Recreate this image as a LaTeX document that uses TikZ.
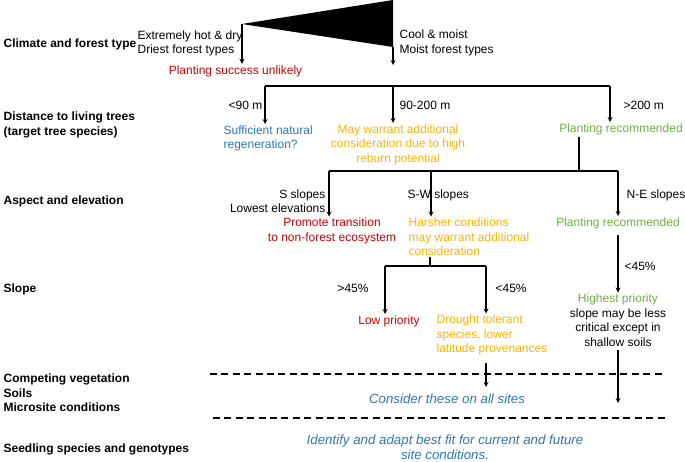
\documentclass[tikz,border=0pt]{standalone}
\usepackage{fontspec}
\setmainfont{Liberation Sans}
\usetikzlibrary{positioning}
\definecolor{noRed}{RGB}{204,0,0}
\definecolor{maybeOrange}{RGB}{255,178,0}
\definecolor{infoBlue}{RGB}{46,117,182}
\definecolor{goGreen}{RGB}{112,173,71}

\begin{document}
\begin{tikzpicture}[x=1pt,y=-1pt,>=stealth,line width=1.2pt,
      every node/.style={font=\fontsize{12}{14.4}\selectfont,inner sep=1pt},
      hdr/.style={anchor=west,align=left,font=\fontsize{12}{14.5}\selectfont\bfseries},
      note/.style={text=infoBlue,align=center,font=\fontsize{13.3}{15}\selectfont\itshape},
      divider/.style={line width=1.8pt,dash pattern=on 7pt off 4.4pt}]
      \useasboundingbox (0,0) rectangle (685,461);
			\node[hdr] (hdrClim) at (2,44) {Climate and forest type};
			\node[hdr] (hdrDist) at (2,125) {Distance to living trees\\(target tree species)};
			\node[hdr] (hdrAsp) at (2,201) {Aspect and elevation};
			\node[hdr] (hdrSlope) at (2,289) {Slope};
			\node[hdr] (hdrSite) at (2,393) {Competing vegetation\\Soils\\Microsite conditions};
			\node[hdr] (hdrSeed) at (2,449) {Seedling species and genotypes};

			\fill (242,24) -- (393,0) -- (393,47) -- cycle;
			\coordinate (wedgeDry) at (242,24);
			\coordinate (wedgeMoist) at (393,47);
			\coordinate (moistEnd) at (393,65);
			\node[anchor=west,align=left] (dryText) at (136,43.5) {Extremely hot \& dry\\Driest forest types};
			\node[anchor=west,align=left] (moistText) at (398,43) {Cool \& moist\\Moist forest types};
			\node[text=noRed] (unlikely) at (235.5,71) {Planting success unlikely};
			\draw[->] (wedgeDry) -- (wedgeDry |- unlikely.north);
			\draw[->] (wedgeMoist) -- (moistEnd);

			\coordinate (d1) at (265,86);
			\coordinate (d2) at (393,86);
			\coordinate (d3) at (610,86);
			\node[anchor=east] (lt90) at (264,105) {<90 m};
			\node[anchor=west] (mid90) at (398,105) {90-200 m};
			\node[anchor=west] (gt200) at (622,105) {>200 m};
			\node[text=infoBlue,align=left,anchor=north west] (natReg) at (222,124) {Sufficient natural\\regeneration?};
			\node[text=maybeOrange,align=center,anchor=north] (reburn) at (398,123) {May warrant additional\\consideration due to high\\reburn potential};
			\node[text=goGreen,anchor=north] (plantA) at (621,122) {Planting recommended};
			\draw (d1) -- (d3);
			\draw[->] (d1) -- (d1 |- natReg.north);
			\draw[->] (d2) -- (d2 |- reburn.north);
			\draw[->] (d3) -- (d3 |- plantA.north);

			\coordinate (a0) at (579,171);
			\coordinate (a1) at (329,171);
			\coordinate (a2) at (431,171);
			\coordinate (a3) at (618,171);
			\node[anchor=east,align=right] (sSlope) at (327,201) {S slopes\\Lowest elevations};
			\node[anchor=west] (swSlope) at (406,195) {S-W slopes};
			\node[anchor=west] (neSlope) at (625,195) {N-E slopes};
			\node[text=noRed,align=center,anchor=north] (transition) at (332,216.5) {Promote transition\\to non-forest ecosystem};
			\node[text=maybeOrange,align=left,anchor=north west] (harsh) at (407,216.5) {Harsher conditions\\may warrant additional\\consideration};
			\node[text=goGreen,anchor=north] (plantB) at (618,216) {Planting recommended};
			\draw[shorten <=1pt] (a0 |- plantA.south) -- (a0);
			\draw (a1) -- (a3);
			\draw[->] (a1) -- (a1 |- transition.north);
			\draw[->] (a2) -- (a2 |- harsh.north);
			\draw[->] (a3) -- (plantB.north);

			\coordinate (s0) at (430,266);
			\coordinate (s1) at (385,266);
			\coordinate (s2) at (486,266);
			\node (gt45) at (353,288) {>45\%};
			\node[anchor=west] (lt45a) at (494,288) {<45\%};
			\node[text=noRed,anchor=north] (lowPrio) at (389,314) {Low priority};
			\node[text=maybeOrange,align=left,anchor=north west] (drought) at (435,313.5) {Drought tolerant\\species, lower\\latitude provenances};
			\draw (s0 |- harsh.south) -- (s0);
			\draw (s1) -- (s2);
			\draw[->] (s1) -- (s1 |- lowPrio.north);
			\draw[->] (s2) -- (s2 |- drought.north);

			\node[anchor=west] (lt45b) at (623,266) {<45\%};
			\node[align=center,anchor=north] (highest) at (618,292.5) {\textcolor{goGreen}{Highest priority}\\slope may be less\\critical except in\\shallow soils};
			\draw[->,shorten <=5pt] (plantB) -- (highest);

			\draw[divider] (210,374) -- (662,374);
			\draw[divider] (213,418) -- (665,418);
			\coordinate (droughtEnd) at (486,387);
			\coordinate (highEnd) at (618,403);
			\draw[->,shorten <=6pt] (droughtEnd |- drought.south) -- (droughtEnd);
			\draw[->,shorten <=2pt] (highest) -- (highEnd);
			\node[note] (consider) at (447,399) {Consider these on all sites};
			\node[note] (identify) at (445,447) {Identify and adapt best fit for current and future\\site conditions.};
		\end{tikzpicture}
\end{document}
